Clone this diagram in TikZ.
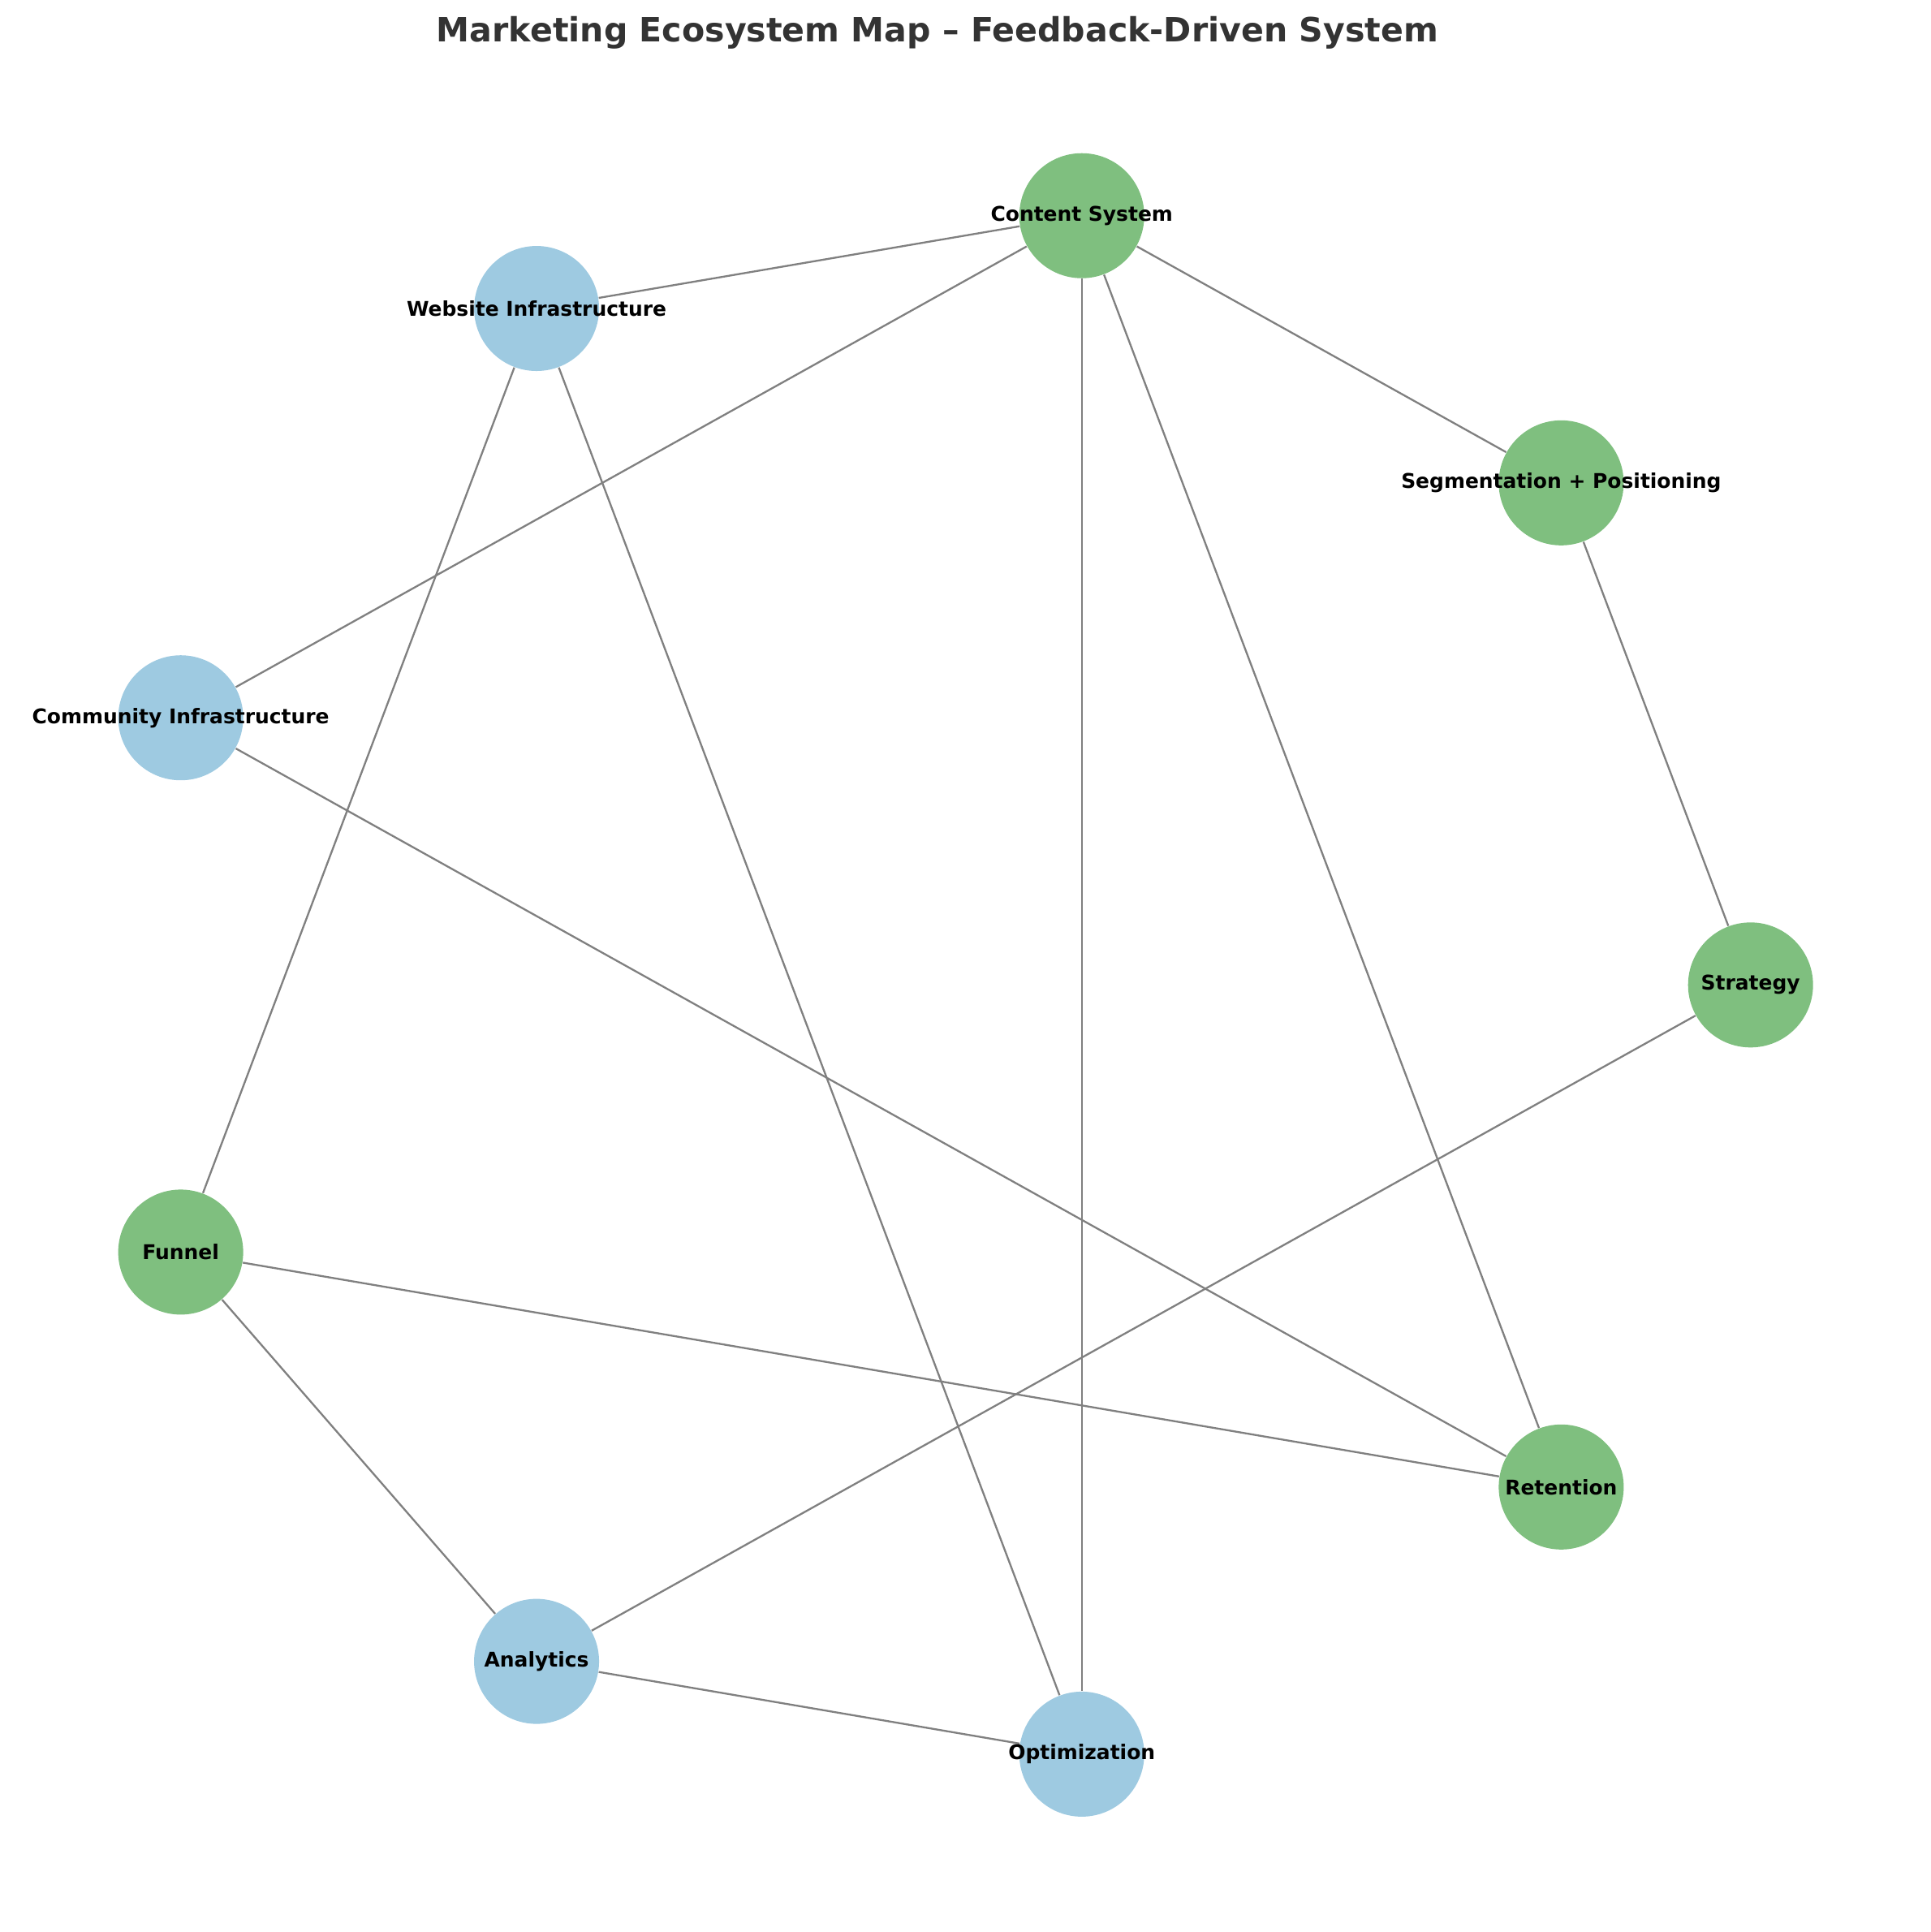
\documentclass[tikz,border=0pt]{standalone}
\usepackage{fontspec}
\setmainfont{DejaVu Sans}
\usetikzlibrary{positioning,backgrounds}
\definecolor{nodegreen}{HTML}{7FBF7F}
\definecolor{nodeblue}{HTML}{9ECAE1}
\definecolor{titlegray}{HTML}{333333}

\begin{document}
\begin{tikzpicture}[ link/.style={draw=gray, line width = 0.66pt},
gnode/.style={ circle, fill = nodegreen, minimum size = 1.54cm, inner sep = 0pt },
bnode/.style={ circle, fill = nodeblue, minimum size = 1.54cm, inner sep = 0pt },
every label/.style={ font = \bfseries\fontsize{7.1}{8}\selectfont, inner sep = 0pt }]

\useasboundingbox (0,0) rectangle (23.79,-23.80);

\node (title) [anchor = base, text = titlegray, font = \bfseries\fontsize{11.7}{14}\selectfont] at(11.55,-0.51) {Marketing Ecosystem Map – Feedback-Driven System};

%nodes round the ellipse
\begin{scope}[shift = {(11.596,-12.133)}]
\foreach \ang/\nm/\sty/\txt in {0/strat/gnode/Strategy, 40/seg/gnode/Segmentation + Positioning, 80/content/gnode/Content System, 120/website/bnode/Website Infrastructure, 160/community/bnode/Community Infrastructure, 200/funnel/gnode/Funnel, 240/analytics/bnode/Analytics, 280/optim/bnode/Optimization, 320/retention/gnode/Retention}
{
\node (\nm) [\sty, label = center:\txt] at (\ang:9.971 and 9.622) {};
}
\end{scope}

%links, under the nodes
\begin{scope}[on background layer]
\foreach \a/\b in {content/website, content/community, content/optim, content/retention, content/seg, website/funnel, website/optim, seg/strat, strat/analytics, community/retention, funnel/retention, funnel/analytics, analytics/optim}
{
\draw [link] (\a) -- (\b);
}
\end{scope}

\end{tikzpicture}
\end{document}
